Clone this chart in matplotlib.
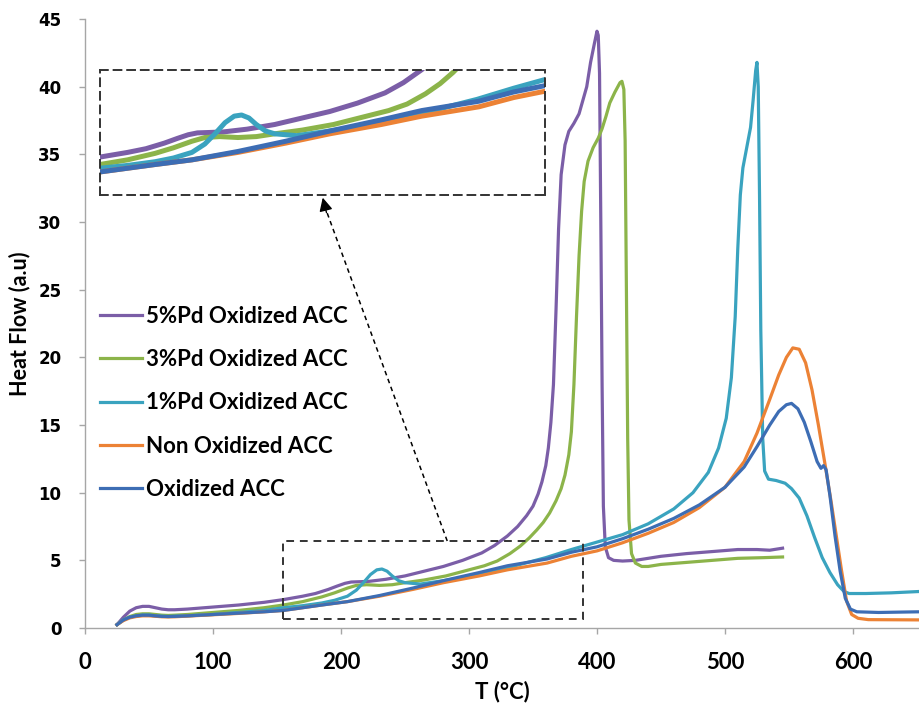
import matplotlib
matplotlib.use('Agg')
import matplotlib.pyplot as plt
from matplotlib.patches import Rectangle

# ---------------- data ----------------
t_5pd = [25, 30, 35, 40, 45, 50, 55, 60, 65, 70, 80, 100, 120, 140, 155, 170, 180, 190, 197, 203,
         208, 214, 222, 235, 250, 265, 280, 295, 310, 320, 330, 338, 345, 350, 354, 357, 360, 362,
         364, 366, 368, 370, 372, 375, 378, 382, 386, 389, 392, 395, 398, 400, 401, 402, 403, 404,
         405, 406.5, 409, 413, 420, 430, 450, 470, 490, 510, 525, 535, 545]
h_5pd = [0.25, 0.8, 1.25, 1.5, 1.6, 1.6, 1.5, 1.4, 1.35, 1.35, 1.4, 1.55, 1.7, 1.9, 2.1, 2.35, 2.55,
         2.85, 3.1, 3.3, 3.4, 3.42, 3.45, 3.6, 3.85, 4.2, 4.55, 5.0, 5.55, 6.1, 6.8, 7.5, 8.3, 9.0,
         9.9, 10.8, 12.0, 13.3, 15.2, 18.0, 23.5, 29.5, 33.5, 35.7, 36.7, 37.3, 38.0, 39.0, 40.0,
         41.8, 43.2, 44.1, 43.8, 41.0, 30.0, 18.0, 9.0, 6.0, 5.2, 5.0, 4.95, 5.0, 5.3, 5.5, 5.65,
         5.8, 5.8, 5.75, 5.9]

t_3pd = [25, 30, 35, 40, 45, 50, 55, 60, 65, 70, 80, 100, 120, 140, 155, 170, 185, 195, 205, 212,
         220, 230, 240, 250, 265, 282, 300, 312, 322, 332, 340, 347, 353, 358, 363, 368, 372, 375,
         378, 380, 382, 384, 386, 388, 390, 393, 397, 401, 404, 407, 410, 414, 418, 419.5, 421, 422,
         423, 424, 425, 427, 430, 435, 440, 450, 470, 490, 510, 530, 545]
h_3pd = [0.25, 0.6, 0.85, 1.0, 1.05, 1.05, 1.0, 0.95, 0.93, 0.95, 1.0, 1.15, 1.3, 1.5, 1.7, 1.95,
         2.3, 2.6, 2.95, 3.15, 3.2, 3.15, 3.2, 3.35, 3.55, 3.85, 4.3, 4.6, 4.95, 5.5, 6.05, 6.65,
         7.25, 7.8, 8.5, 9.4, 10.3, 11.3, 12.8, 14.5, 18.0, 23.0, 27.5, 30.8, 33.0, 34.5, 35.5,
         36.2, 36.9, 37.8, 38.8, 39.6, 40.3, 40.4, 39.8, 36.0, 25.0, 14.0, 8.0, 5.5, 4.8, 4.55,
         4.55, 4.7, 4.85, 5.0, 5.15, 5.2, 5.25]

t_1pd = [25, 30, 35, 40, 45, 50, 55, 60, 65, 70, 80, 100, 120, 140, 155, 170, 185, 195, 205, 212,
         218, 223, 228, 232, 236, 240, 245, 250, 262, 280, 300, 320, 340, 360, 380, 400, 420, 440,
         460, 475, 487, 495, 501, 505, 508, 510, 512, 514, 517, 520, 522, 524, 525, 526, 527, 528,
         529.5, 531, 534, 540, 547, 552, 558, 564, 570, 576, 582, 588, 593, 597, 610, 630, 652]
h_1pd = [0.25, 0.6, 0.8, 0.9, 0.95, 0.95, 0.9, 0.87, 0.85, 0.87, 0.9, 1.0, 1.15, 1.3, 1.5, 1.65,
         1.85, 2.05, 2.35, 2.8, 3.4, 3.95, 4.3, 4.36, 4.2, 3.85, 3.5, 3.35, 3.25, 3.5, 3.8, 4.2, 4.7,
         5.2, 5.8, 6.35, 6.9, 7.7, 8.8, 10.0, 11.5, 13.3, 15.5, 18.5, 23.0, 28.0, 32.0, 34.0, 35.5,
         37.0, 39.0, 41.2, 41.8, 40.0, 32.0, 22.0, 14.0, 11.6, 11.0, 10.9, 10.7, 10.3, 9.6, 8.3, 6.7,
         5.2, 4.1, 3.2, 2.7, 2.55, 2.55, 2.6, 2.7]

t_non = [25, 30, 35, 40, 45, 50, 55, 60, 65, 70, 80, 100, 120, 140, 155, 170, 185, 205, 230, 256,
         280, 308, 330, 361, 380, 400, 420, 440, 460, 480, 500, 515, 525, 535, 542, 548, 553, 558,
         563, 568, 573, 578, 583, 587, 591, 595, 599, 604, 612, 652]
h_non = [0.25, 0.55, 0.75, 0.85, 0.9, 0.9, 0.87, 0.83, 0.82, 0.83, 0.88, 0.98, 1.08, 1.2, 1.3, 1.5,
         1.7, 1.95, 2.35, 2.85, 3.35, 3.85, 4.3, 4.8, 5.3, 5.7, 6.3, 7.0, 7.8, 8.9, 10.4, 12.3, 14.4,
         16.9, 18.7, 20.0, 20.7, 20.6, 19.6, 17.6, 15.0, 12.2, 9.3, 6.8, 4.3, 2.0, 1.0, 0.72, 0.62,
         0.6]

t_ox = [25, 30, 35, 40, 45, 50, 55, 60, 65, 70, 80, 100, 120, 140, 155, 170, 185, 205, 230, 256,
        280, 308, 330, 361, 380, 400, 420, 440, 460, 480, 500, 515, 525, 535, 542, 548, 552, 557,
        562, 567, 572, 575, 577, 579, 582, 586, 590, 594, 598, 603, 620, 652]
h_ox = [0.25, 0.6, 0.8, 0.9, 0.95, 0.95, 0.9, 0.86, 0.85, 0.86, 0.9, 1.0, 1.1, 1.2, 1.3, 1.5, 1.7,
        1.95, 2.4, 2.95, 3.5, 4.1, 4.6, 5.1, 5.6, 6.0, 6.6, 7.3, 8.1, 9.1, 10.4, 11.9, 13.4, 15.0,
        16.0, 16.5, 16.6, 16.2, 15.2, 13.8, 12.3, 11.8, 12.0, 11.7, 9.8, 6.8, 4.2, 2.2, 1.4, 1.2,
        1.15, 1.2]

labels = ['5%Pd Oxidized ACC', '3%Pd Oxidized ACC', '1%Pd Oxidized ACC',
          'Non Oxidized ACC', 'Oxidized ACC']
colors = ['#7b5ea7', '#8cb44a', '#3aa3bf', '#ec8235', '#3d6db4']
series = [(t_5pd, h_5pd), (t_3pd, h_3pd), (t_1pd, h_1pd), (t_non, h_non), (t_ox, h_ox)]

x_ticks = [0, 100, 200, 300, 400, 500, 600]
y_ticks = [0, 5, 10, 15, 20, 25, 30, 35, 40, 45]

grey = '#a6a6a6'

fig = plt.figure(figsize=(9.19, 7.11), dpi=100)
ax = fig.add_axes([0.0925, 0.1167, 0.9075, 0.8565])

for (t, h), c, lab in zip(series, colors, labels):
    ax.plot(t, h, color=c, lw=2.3, label=lab, solid_joinstyle='round')

ax.set_xlim(0, 651.6)
ax.set_ylim(0, 45)
ax.set_xticks(x_ticks)
ax.set_yticks(y_ticks)
for s in ['top', 'right']:
    ax.spines[s].set_visible(False)
for s in ['left', 'bottom']:
    ax.spines[s].set_color(grey)
    ax.spines[s].set_linewidth(1.0)
ax.tick_params(axis='both', direction='out', length=4, width=1, color=grey)
ax.tick_params(axis='y', pad=13)
ax.tick_params(axis='x', pad=13)
for lb in ax.get_yticklabels():
    lb.set_fontfamily('DejaVu Sans')
    lb.set_fontweight('bold')
    lb.set_fontsize(12)
for lb in ax.get_xticklabels():
    lb.set_fontfamily('Lato')
    lb.set_fontweight('bold')
    lb.set_fontsize(16)

ax.set_xlabel('T (°C)', fontfamily='Lato', fontweight='bold', fontsize=16, labelpad=6)
ax.set_ylabel('Heat Flow (a.u)', fontfamily='Lato', fontweight='bold', fontsize=15.5, labelpad=6)

leg = ax.legend(loc='upper left', bbox_to_anchor=(100 / 919, 1 - 306 / 711),
                bbox_transform=fig.transFigure, frameon=False, borderpad=0, borderaxespad=0,
                handlelength=1.9, handletextpad=0.15, labelspacing=1.0,
                prop={'family': 'Lato', 'weight': 'bold', 'size': 16})

# dashed region that is magnified
box_x0, box_x1, box_y0, box_y1 = 155, 389, 0.67, 6.43
ax.add_patch(Rectangle((box_x0, box_y0), box_x1 - box_x0, box_y1 - box_y0, fill=False,
                       ls=(0, (4, 3)), lw=1.4, ec='#333333', zorder=5))

# arrow from the region to the zoomed view
start = (283, 6.43)
tip = (185.2, 32.0)
ax.plot([start[0], tip[0] + 3.5], [start[1], tip[1] - 1.2], ls=(0, (3, 2.5)), lw=1.1, color='black')
ax.annotate('', xy=tip, xytext=(tip[0] + 4, tip[1] - 1.5),
            arrowprops=dict(arrowstyle='-|>', color='black', lw=1, mutation_scale=20))

# zoomed view
axin = fig.add_axes([100 / 919, 1 - 195 / 711, 445 / 919, 125 / 711])
axin.set_facecolor('none')
for (t, h), c in zip(series, colors):
    axin.plot(t, h, color=c, lw=3.6, solid_joinstyle='round')
axin.set_xlim(155, 397)
axin.set_ylim(0.06, 6.78)
axin.set_xticks([])
axin.set_yticks([])
for s in axin.spines.values():
    s.set_linestyle((0, (4, 3)))
    s.set_linewidth(1.4)
    s.set_edgecolor('#333333')

fig.savefig('out.png', dpi=100)
plt.close()
